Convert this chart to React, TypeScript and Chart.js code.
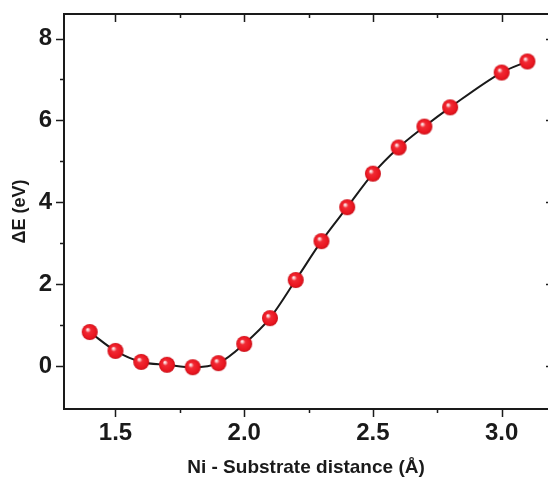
import React, { useEffect, useRef } from "react";
import { Chart, registerables } from "chart.js";

Chart.register(...registerables);

const distances = [1.4, 1.5, 1.6, 1.7, 1.8, 1.9, 2.0, 2.1, 2.2, 2.3, 2.4, 2.5, 2.6, 2.7, 2.8, 3.0, 3.1];
const deltaE = [0.83, 0.37, 0.1, 0.03, -0.03, 0.07, 0.54, 1.17, 2.1, 3.05, 3.88, 4.7, 5.34, 5.85, 6.32, 7.17, 7.44];
const xMajorTicks = [1.5, 2.0, 2.5, 3.0];
const xMinorTicks = [1.75, 2.25, 2.75];
const yMajorTicks = [0, 2, 4, 6, 8];
const yMinorTicks = [1, 3, 5, 7];

const FONT = "'Liberation Sans', Arial, Helvetica, sans-serif";

function makeSphere(r: number): HTMLCanvasElement {
  const s = 2 * r + 2;
  const c = document.createElement("canvas");
  c.width = s;
  c.height = s;
  const ctx = c.getContext("2d")!;
  const cx = s / 2;
  const cy = s / 2;
  const g = ctx.createRadialGradient(cx - r * 0.3, cy - r * 0.35, 0, cx, cy, r);
  g.addColorStop(0, "#ffffff");
  g.addColorStop(0.14, "#fbc4c6");
  g.addColorStop(0.34, "#f12a34");
  g.addColorStop(0.8, "#ea1620");
  g.addColorStop(1, "#c80f18");
  ctx.fillStyle = g;
  ctx.beginPath();
  ctx.arc(cx, cy, r, 0, Math.PI * 2);
  ctx.fill();
  return c;
}

const frameTicks = {
  id: "frameTicks",
  afterDraw(chart: any) {
    const { ctx, chartArea } = chart;
    const xs = chart.scales.x;
    const ys = chart.scales.y;
    const { left, top, bottom } = chartArea;
    // the right frame of the original figure lies just beyond the cropped edge
    const right = chartArea.right + 6;
    ctx.save();
    ctx.strokeStyle = "#1a1a1a";
    ctx.lineWidth = 2;
    ctx.beginPath();
    ctx.moveTo(left - 1, top);
    ctx.lineTo(right, top);
    ctx.stroke();
    const major = 8;
    const minor = 4;
    ctx.lineWidth = 1.5;
    ctx.beginPath();
    for (const v of xMajorTicks) {
      const p = Math.round(xs.getPixelForValue(v)) + 0.5;
      ctx.moveTo(p, bottom);
      ctx.lineTo(p, bottom + major);
      ctx.moveTo(p, top);
      ctx.lineTo(p, top + major);
    }
    for (const v of xMinorTicks) {
      const p = Math.round(xs.getPixelForValue(v)) + 0.5;
      ctx.moveTo(p, bottom);
      ctx.lineTo(p, bottom + minor);
      ctx.moveTo(p, top);
      ctx.lineTo(p, top + minor);
    }
    for (const v of yMajorTicks) {
      const p = Math.round(ys.getPixelForValue(v)) + 0.5;
      ctx.moveTo(left, p);
      ctx.lineTo(left - major, p);
      ctx.moveTo(right, p);
      ctx.lineTo(right - major, p);
    }
    for (const v of yMinorTicks) {
      const p = Math.round(ys.getPixelForValue(v)) + 0.5;
      ctx.moveTo(left, p);
      ctx.lineTo(left - minor, p);
      ctx.moveTo(right, p);
      ctx.lineTo(right - minor, p);
    }
    ctx.stroke();
    ctx.restore();
  },
};

export default function App() {
  const ref = useRef<HTMLCanvasElement | null>(null);
  useEffect(() => {
    if (!ref.current) return;
    const sphere = makeSphere(8);
    const chart = new Chart(ref.current, {
      type: "line",
      data: {
        datasets: [
          {
            data: distances.map((x, i) => ({ x, y: deltaE[i] })),
            borderColor: "#1a1a1a",
            borderWidth: 2,
            cubicInterpolationMode: "monotone",
            pointStyle: sphere as any,
            pointRadius: 8,
            pointHoverRadius: 8,
            fill: false,
          },
        ],
      },
      options: {
        responsive: false,
        animation: false,
        events: [],
        layout: { padding: { top: 14, right: 0, left: 0, bottom: 0 } },
        plugins: { legend: { display: false }, tooltip: { enabled: false } },
        scales: {
          x: {
            type: "linear",
            min: 1.3,
            max: 3.18,
            afterFit: (s: any) => {
              s.height = 75;
              s.paddingLeft = 0;
              s.paddingRight = 0;
            },
            afterBuildTicks: (s: any) => {
              s.ticks = xMajorTicks.map((v) => ({ value: v }));
            },
            grid: { display: false, drawTicks: false },
            border: { display: true, color: "#1a1a1a", width: 2 },
            ticks: {
              padding: 10,
              color: "#1a1a1a",
              font: { family: FONT, size: 24, weight: "bold" },
              callback: (v: any) => Number(v).toFixed(1),
              maxRotation: 0,
            },
            title: {
              display: true,
              text: "Ni - Substrate distance (Å)",
              color: "#1a1a1a",
              font: { family: FONT, size: 19, weight: "bold" },
              padding: { top: 0, bottom: 5 },
            },
          },
          y: {
            type: "linear",
            min: -1.05,
            max: 8.6,
            afterFit: (s: any) => {
              s.width = 64;
              s.paddingTop = 0;
              s.paddingBottom = 0;
            },
            afterBuildTicks: (s: any) => {
              s.ticks = yMajorTicks.map((v) => ({ value: v }));
            },
            grid: { display: false, drawTicks: false },
            border: { display: true, color: "#1a1a1a", width: 2 },
            ticks: {
              padding: 12,
              color: "#1a1a1a",
              font: { family: FONT, size: 24, weight: "bold" },
              callback: (v: any) => String(v),
            },
            title: {
              display: true,
              text: "ΔE (eV)",
              color: "#1a1a1a",
              font: { family: FONT, size: 18, weight: "bold" },
              padding: { top: 9, bottom: 0 },
            },
          },
        },
      },
      plugins: [frameTicks],
    });
    return () => chart.destroy();
  }, []);
  return (
    <div style={{ position: "absolute", left: 0, top: 0, width: 548, height: 484, overflow: "hidden", background: "#fff" }}>
      <canvas ref={ref} width={558} height={484} style={{ display: "block", width: 558, height: 484 }} />
    </div>
  );
}
